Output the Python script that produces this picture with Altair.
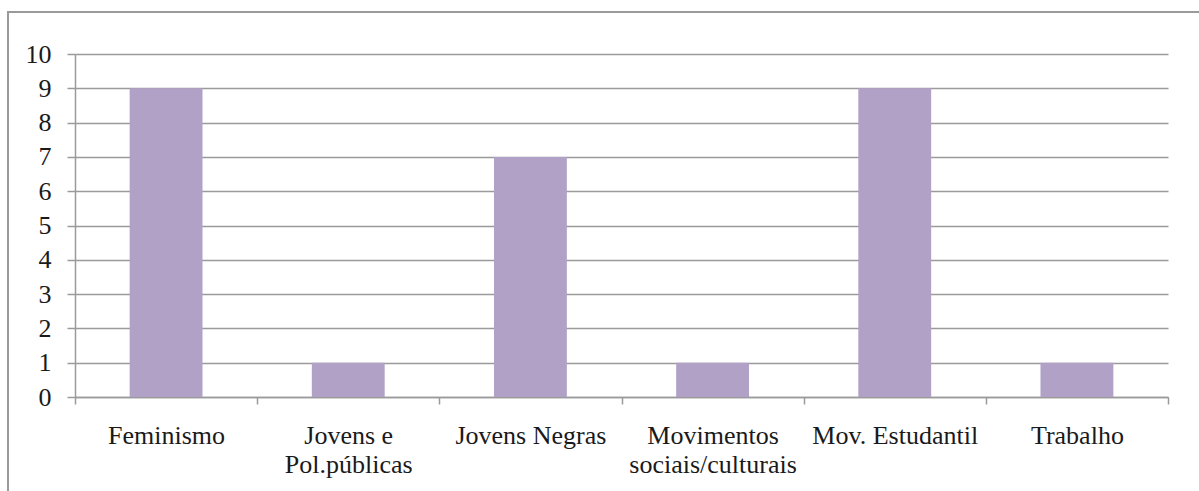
import altair as alt
import pandas as pd

categories = ["Feminismo", "Jovens e\nPol.públicas", "Jovens Negras",
              "Movimentos\nsociais/culturais", "Mov. Estudantil", "Trabalho"]
values = [9, 1, 7, 1, 9, 1]
y_ticks = list(range(0, 11))

df = pd.DataFrame({"categoria": categories, "valor": values})

GRAY = "#9a9a9a"
FONT = "Liberation Serif"

border = alt.Chart(alt.Data(values=[{}])).mark_rect(
    filled=False, stroke=GRAY, strokeWidth=2
).encode(
    x=alt.value(-67), x2=alt.value(1134), y=alt.value(-42), y2=alt.value(447)
)

bars = alt.Chart(df).mark_bar(color="#B1A1C7", width={"band": 0.4}).encode(
    x=alt.X("categoria:N", sort=categories, title=None,
            scale=alt.Scale(paddingInner=0, paddingOuter=0),
            axis=alt.Axis(labelAngle=0, tickBand="extent", tickSize=7,
                          tickColor=GRAY, domainColor=GRAY, tickWidth=1.5,
                          domainWidth=1.5,
                          labelExpr="split(datum.label, '\\n')",
                          labelFont=FONT, labelFontSize=26, labelColor="#1a1a1a",
                          labelLineHeight=29, labelPadding=18, labelBaseline="top",
                          labelLimit=300, grid=False)),
    y=alt.Y("valor:Q", title=None,
            scale=alt.Scale(domain=[0, 10], nice=False),
            axis=alt.Axis(values=y_ticks, tickSize=8, tickColor=GRAY,
                          domainColor=GRAY, gridColor=GRAY, tickWidth=1.5,
                          domainWidth=1.5, gridWidth=1.5, gridOpacity=1,
                          labelFont=FONT, labelFontSize=26, labelColor="#1a1a1a",
                          labelPadding=16))
)

chart = alt.layer(border, bars).properties(
    width=1093, height=343,
    autosize=alt.AutoSizeParams(type="none"),
    padding={"left": 75, "top": 54, "right": 31, "bottom": 94},
    background="white"
).configure_view(stroke=None)

chart.save("out.html", embed_options={"renderer": "svg", "actions": False})
